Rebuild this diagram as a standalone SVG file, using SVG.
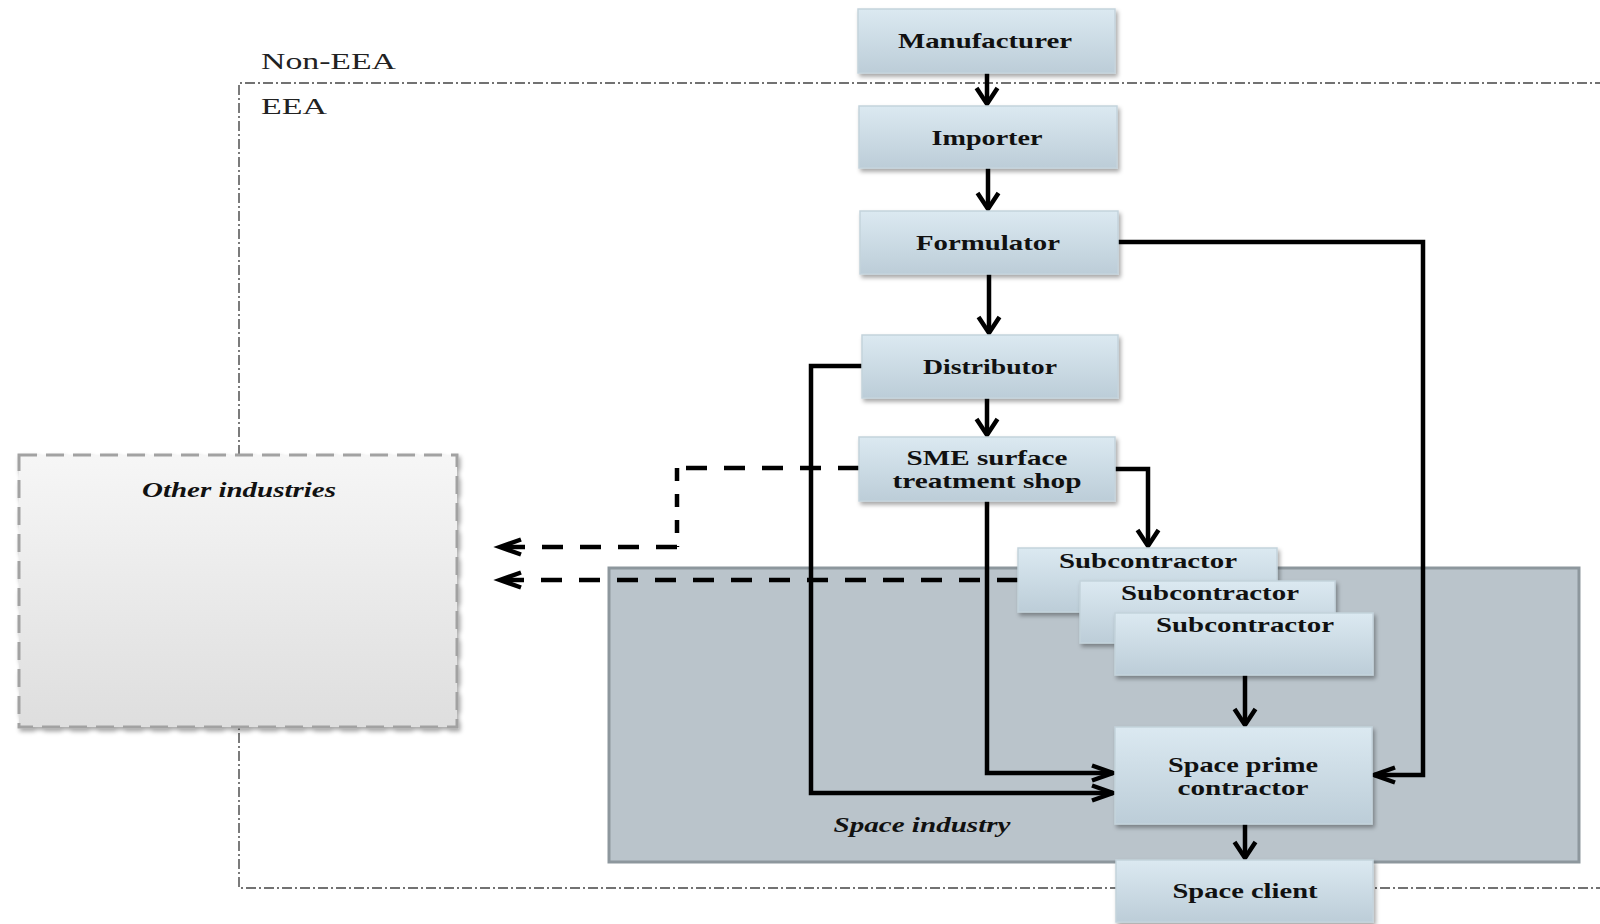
<svg xmlns="http://www.w3.org/2000/svg" width="1600" height="924" viewBox="0 0 1600 924">
  <defs>
    <linearGradient id="nodeFill" x1="0" y1="0" x2="0" y2="1">
      <stop offset="0" stop-color="#dbe9f1"/>
      <stop offset="1" stop-color="#bccdd8"/>
    </linearGradient>
    <linearGradient id="otherFill" x1="0" y1="0" x2="0" y2="1">
      <stop offset="0" stop-color="#f6f6f6"/>
      <stop offset="1" stop-color="#dedede"/>
    </linearGradient>
    <filter id="shadow" x="-10%" y="-10%" width="125%" height="130%">
      <feDropShadow dx="2" dy="3" stdDeviation="2" flood-color="#000" flood-opacity="0.35"/>
    </filter>
    <marker id="headV" markerUnits="userSpaceOnUse" viewBox="-20 -14 24 28" refX="0" refY="0" markerWidth="24" markerHeight="28" orient="auto" overflow="visible">
      <path d="M -16,-10.5 L 0,0 L -16,10.5" fill="none" stroke="#000" stroke-width="4.5"/>
    </marker>
    <marker id="headH" markerUnits="userSpaceOnUse" viewBox="-24 -10 28 20" refX="0" refY="0" markerWidth="28" markerHeight="20" orient="auto" overflow="visible">
      <path d="M -21,-7.5 L 0,0 L -21,7.5" fill="none" stroke="#000" stroke-width="4.5"/>
    </marker>
  </defs>
  <style>
    .node rect { fill: url(#nodeFill); stroke: #c4d3dc; stroke-width: 1.5; filter: url(#shadow); }
    .lbl { font-family: "Liberation Serif", "Times New Roman", serif; font-weight: bold; font-size: 21px; fill: #111; text-anchor: middle; }
    .ital { font-family: "Liberation Serif", "Times New Roman", serif; font-weight: bold; font-style: italic; font-size: 21px; fill: #111; text-anchor: middle; }
    .zone { font-family: "Liberation Serif", "Times New Roman", serif; font-size: 23px; fill: #222; }
    .flow { fill: none; stroke: #000; stroke-width: 4.5; }
    .dash { fill: none; stroke: #000; stroke-width: 4.5; stroke-dasharray: 21 17; }
    .dashV { fill: none; stroke: #000; stroke-width: 4.5; stroke-dasharray: 13 13; }
  </style>

  <rect width="1600" height="924" fill="#fff"/>

  <!-- EEA boundary (dash-dot), open to the right -->
  <path d="M 1605,83 L 239,83 L 239,888 L 1605,888" fill="none" stroke="#444" stroke-width="1.4" stroke-dasharray="10 3 2 3"/>
  <text class="zone" x="261" y="69" textLength="135" lengthAdjust="spacingAndGlyphs">Non-EEA</text>
  <text class="zone" x="261" y="114" textLength="66" lengthAdjust="spacingAndGlyphs">EEA</text>

  <!-- Space industry area -->
  <g id="space-industry">
    <rect x="609" y="568" width="970" height="294" fill="#bac4cb" stroke="#8d979d" stroke-width="3"/>
    <text class="ital" x="922" y="832" textLength="177" lengthAdjust="spacingAndGlyphs">Space industry</text>
  </g>

  <!-- Other industries -->
  <g id="other-industries">
    <rect x="19" y="455" width="438" height="272" fill="url(#otherFill)" stroke="#a2a2a2" stroke-width="3" stroke-dasharray="18 9" filter="url(#shadow)"/>
    <text class="ital" x="239" y="497" textLength="194" lengthAdjust="spacingAndGlyphs">Other industries</text>
  </g>

  <!-- Connectors -->
  <g id="connectors">
    <path class="dash" d="M 859,468 L 677,468"/>
    <path class="dashV" d="M 677,468 L 677,547"/>
    <path class="dash" d="M 677,547 L 500,547" marker-end="url(#headH)"/>
    <path class="dash" d="M 1018,580 L 500,580" marker-end="url(#headH)"/>

    <path class="flow" d="M 987,73 L 987,104" marker-end="url(#headV)"/>
    <path class="flow" d="M 988,168 L 988,209" marker-end="url(#headV)"/>
    <path class="flow" d="M 989,274 L 989,333" marker-end="url(#headV)"/>
    <path class="flow" d="M 987,398 L 987,435" marker-end="url(#headV)"/>
    <path class="flow" d="M 1115,469 L 1148,469 L 1148,546" marker-end="url(#headV)"/>
    <path class="flow" d="M 1118,242 L 1423,242 L 1423,775 L 1374,775" marker-end="url(#headH)"/>
    <path class="flow" d="M 862,366 L 811,366 L 811,793 L 1113,793" marker-end="url(#headH)"/>
    <path class="flow" d="M 987,501 L 987,773 L 1113,773" marker-end="url(#headH)"/>
    <path class="flow" d="M 1245,675 L 1245,725" marker-end="url(#headV)"/>
    <path class="flow" d="M 1245,824 L 1245,858" marker-end="url(#headV)"/>
  </g>

  <!-- Supply chain nodes -->
  <g id="manufacturer" class="node">
    <rect x="858" y="9" width="257" height="64"/>
    <text class="lbl" x="985" y="48" textLength="174" lengthAdjust="spacingAndGlyphs">Manufacturer</text>
  </g>
  <g id="importer" class="node">
    <rect x="859" y="106" width="258" height="62"/>
    <text class="lbl" x="987" y="145" textLength="111" lengthAdjust="spacingAndGlyphs">Importer</text>
  </g>
  <g id="formulator" class="node">
    <rect x="860" y="211" width="258" height="63"/>
    <text class="lbl" x="988" y="250" textLength="144" lengthAdjust="spacingAndGlyphs">Formulator</text>
  </g>
  <g id="distributor" class="node">
    <rect x="862" y="335" width="256" height="63"/>
    <text class="lbl" x="990" y="374" textLength="134" lengthAdjust="spacingAndGlyphs">Distributor</text>
  </g>
  <g id="sme-shop" class="node">
    <rect x="859" y="437" width="256" height="64"/>
    <text class="lbl" x="987" y="465" textLength="161" lengthAdjust="spacingAndGlyphs">SME surface</text>
    <text class="lbl" x="987" y="488" textLength="189" lengthAdjust="spacingAndGlyphs">treatment shop</text>
  </g>
  <g id="subcontractor-1" class="node">
    <rect x="1018" y="548" width="259" height="64"/>
    <text class="lbl" x="1148" y="568" textLength="178" lengthAdjust="spacingAndGlyphs">Subcontractor</text>
  </g>
  <g id="subcontractor-2" class="node">
    <rect x="1080" y="581" width="255" height="62"/>
    <text class="lbl" x="1210" y="600" textLength="178" lengthAdjust="spacingAndGlyphs">Subcontractor</text>
  </g>
  <g id="subcontractor-3" class="node">
    <rect x="1115" y="613" width="258" height="62"/>
    <text class="lbl" x="1245" y="632" textLength="178" lengthAdjust="spacingAndGlyphs">Subcontractor</text>
  </g>
  <g id="space-prime-contractor" class="node">
    <rect x="1115" y="727" width="257" height="97"/>
    <text class="lbl" x="1243" y="772" textLength="150" lengthAdjust="spacingAndGlyphs">Space prime</text>
    <text class="lbl" x="1243" y="795" textLength="131" lengthAdjust="spacingAndGlyphs">contractor</text>
  </g>
  <g id="space-client" class="node">
    <rect x="1116" y="860" width="257" height="62"/>
    <text class="lbl" x="1245" y="898" textLength="145" lengthAdjust="spacingAndGlyphs">Space client</text>
  </g>
</svg>
